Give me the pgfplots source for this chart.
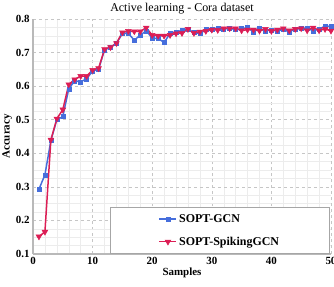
\documentclass[border=0pt]{standalone}
\usepackage{pgfplots}
\pgfplotsset{compat=1.18}
\usepackage{pgfplotstable}
\usepackage{fontspec}
\setmainfont{Liberation Serif}
\definecolor{cblue}{RGB}{70,110,220}
\definecolor{cred}{RGB}{220,30,85}
\pgfplotstableread{
x y
1 0.293
2 0.336
3 0.438
4 0.500
5 0.509
6 0.592
7 0.616
8 0.613
9 0.622
10 0.645
11 0.650
12 0.708
13 0.716
14 0.727
15 0.757
16 0.757
17 0.737
18 0.752
19 0.765
20 0.743
21 0.742
22 0.730
23 0.757
24 0.760
25 0.767
26 0.768
27 0.760
28 0.757
29 0.768
30 0.770
31 0.773
32 0.770
33 0.773
34 0.768
35 0.771
36 0.774
37 0.762
38 0.772
39 0.765
40 0.767
41 0.765
42 0.768
43 0.762
44 0.770
45 0.772
46 0.773
47 0.765
48 0.770
49 0.779
50 0.778
}\gcn
\pgfplotstableread{
x y
1 0.152
2 0.166
3 0.440
4 0.503
5 0.530
6 0.605
7 0.620
8 0.630
9 0.630
10 0.648
11 0.653
12 0.710
13 0.716
14 0.728
15 0.760
16 0.764
17 0.763
18 0.763
19 0.774
20 0.752
21 0.750
22 0.750
23 0.752
24 0.757
25 0.758
26 0.770
27 0.758
28 0.762
29 0.764
30 0.768
31 0.767
32 0.772
33 0.772
34 0.772
35 0.766
36 0.768
37 0.768
38 0.765
39 0.770
40 0.764
41 0.768
42 0.772
43 0.766
44 0.770
45 0.772
46 0.766
47 0.774
48 0.766
49 0.770
50 0.765
}\spk
\begin{document}
\begin{tikzpicture}
\begin{axis}[
  at={(0,0)}, anchor=south west,
  scale only axis,
  width=298bp, height=235bp,
  xmin=0, xmax=50, ymin=0.1, ymax=0.8,
  xtick={0,10,20,30,40,50},
  ytick={0.1,0.2,0.3,0.4,0.5,0.6,0.7,0.8},
  minor x tick num=4,
  minor y tick num=3,
  grid=both,
  major grid style={dashed, gray!45, line width=0.5pt},
  minor grid style={gray!15, line width=0.4pt},
  axis x line*=bottom, axis y line*=left,
  axis line style={gray!55, line width=1.2pt, -},
  major tick length=0pt, minor tick length=0pt,
  /pgf/number format/assume math mode=true,
  /pgf/number format/fixed, /pgf/number format/fixed zerofill,
  /pgf/number format/precision=1,
  yticklabel style={/pgf/number format/fixed zerofill, /pgf/number format/precision=1},
  xticklabel style={/pgf/number format/precision=0, /pgf/number format/fixed zerofill=false},
  tick label style={font=\bfseries\fontsize{11}{13}\selectfont},
  xlabel={Samples}, ylabel={Accuracy},
  label style={font=\bfseries\fontsize{11}{13}\selectfont},
  xlabel style={yshift=4bp},
  ylabel style={yshift=-3bp},
  title={Active learning - Cora dataset},
  title style={font=\fontsize{12}{14}\selectfont, yshift=-5bp},
  legend style={at={(rel axis cs:0.995,0)}, anchor=south east, draw=gray!70,
    fill=white, font=\bfseries\fontsize{12}{14}\selectfont,
    inner xsep=48bp, inner ysep=5bp, row sep=9bp, line width=0.8pt},
  legend cell align=left,
]
\addplot[cblue, line width=1.5pt, mark=square*, mark size=2bp, mark options={solid, fill=cblue, line width=0.5pt}] table[x=x,y=y]{\gcn};
\addlegendentry{SOPT-GCN}
\addplot[cred, line width=1.5pt, mark=triangle*, mark size=3.3bp, mark options={solid, fill=cred, rotate=180, line width=0.5pt}] table[x=x,y=y]{\spk};
\addlegendentry{SOPT-SpikingGCN}
\end{axis}
\pgfresetboundingbox
\useasboundingbox (-33bp,-33bp) rectangle (301bp,254bp);
\end{tikzpicture}
\end{document}
